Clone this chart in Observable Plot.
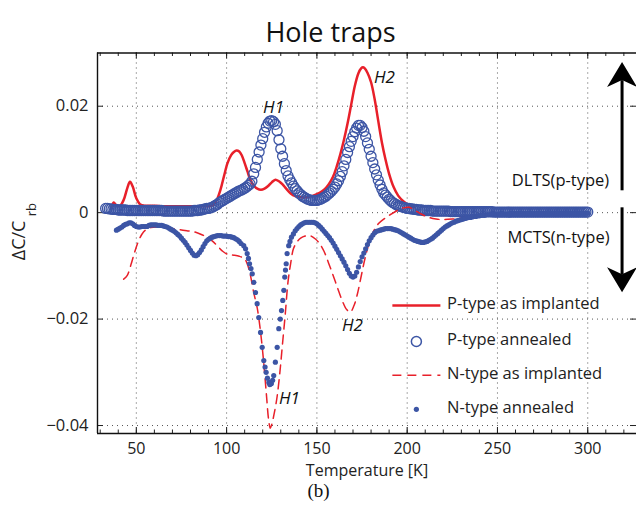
<!DOCTYPE html>
<html><head><meta charset="utf-8">
<script src="https://cdn.jsdelivr.net/npm/d3@7"></script>
<script src="https://cdn.jsdelivr.net/npm/@observablehq/plot@0.6"></script>
<style>body{margin:0;background:#fff}</style>
</head><body><div id="chart"></div>
<script>
// ---------- data ----------
const seriesNames = ["P-type as implanted", "P-type annealed", "N-type as implanted", "N-type annealed"];
const xTicks = [50, 100, 150, 200, 250, 300];
const yTicks = [-0.04, -0.02, 0, 0.02];

// P-type as implanted (red solid line)
const pImpT = [36,37.5,39,41,43,45,46.5,48,50,52,55,60,65,70,75,80,85,89,92,94,96.5,98.5,100.5,102.5,104,105.5,107,108.5,110,111.5,113,115,117,119,121,123,125,127,129,131,133,135.5,138,141,144.5,148,151.5,154,156.5,159,161,163,165,167,169,171,173,174.5,175.5,176.5,178,180,182,184,186,188,190,192.5,195,198,201,204];
const pImpV = [0.0008,0.0019,0.0013,0.0013,0.0024,0.0046,0.0058,0.0049,0.0027,0.0016,0.0013,0.0013,0.0012,0.0012,0.0012,0.0012,0.0012,0.0012,0.0013,0.0020,0.0042,0.0068,0.0093,0.0108,0.0114,0.0117,0.0115,0.0107,0.0093,0.0078,0.0063,0.0051,0.0045,0.0043,0.0045,0.0050,0.0057,0.0062,0.0059,0.0053,0.0045,0.0036,0.0031,0.0029,0.0029,0.0032,0.0037,0.0043,0.0053,0.0068,0.0087,0.0110,0.0137,0.0168,0.0203,0.0238,0.0262,0.0271,0.0273,0.0271,0.0263,0.0245,0.0213,0.0172,0.0132,0.0100,0.0073,0.0048,0.0032,0.0021,0.0014,0.0010];

// P-type annealed (open circles), 1 K steps 33..300
const pAnnT = d3.range(33, 301);
const pAnnV = [
0.0008,0.0008,0.0007,0.0007,0.0006,0.0006,0.0006,0.0005,
0.0005,0.0005,0.0005,0.0005,0.0004,0.0004,0.0004,0.0004,0.0004,0.0004,
0.0004,0.0004,0.0004,0.0004,0.0004,0.0004,0.0004,0.0004,0.0004,0.0004,
0.0004,0.0004,0.0004,0.0004,0.0003,0.0003,0.0003,0.0003,0.0003,0.0003,
0.0003,0.0003,0.0003,0.0003,0.0003,0.0003,0.0003,0.0003,0.0003,0.0003,
0.0003,0.0004,0.0004,0.0004,0.0005,0.0005,0.0006,0.0007,0.0008,0.0008,
0.0009,0.0010,0.0012,0.0014,0.0016,0.0019,0.0021,0.0023,0.0025,0.0027,
0.0029,0.0031,0.0033,0.0035,0.0037,0.0039,0.0041,0.0042,0.0044,0.0046,
0.0048,0.0051,0.0054,0.0059,0.0073,0.0085,0.0100,0.0114,0.0127,0.0139,
0.0151,0.0161,0.0168,0.0172,0.0173,0.0171,0.0166,0.0154,0.0137,0.0120,
0.0106,0.0092,0.0079,0.0069,0.0062,0.0056,0.0050,0.0045,0.0041,0.0037,
0.0034,0.0031,0.0029,0.0027,0.0025,0.0024,0.0023,0.0023,0.0023,0.0023,
0.0024,0.0025,0.0027,0.0029,0.0031,0.0034,0.0037,0.0040,0.0044,0.0048,
0.0054,0.0060,0.0068,0.0077,0.0088,0.0100,0.0113,0.0124,0.0134,0.0143,
0.0152,0.0159,0.0164,0.0164,0.0160,0.0153,0.0143,0.0131,0.0119,0.0106,
0.0094,0.0082,0.0071,0.0061,0.0052,0.0044,0.0037,0.0033,0.0029,0.0025,
0.0022,0.0019,0.0017,0.0015,0.0013,0.0012,0.0011,0.0010,0.0009,0.0008,
0.0008,0.0007,0.0007,0.0006,0.0006,0.0005,0.0005,0.0005,0.0004,0.0004,
0.0004,0.0004,0.0004,0.0003,0.0003,0.0003,0.0003,0.0003,0.0003,0.0003,
0.0003,0.0003,0.0003,0.0002,0.0002,0.0002,0.0002,0.0002,0.0002,0.0002,
0.0002,0.0002,0.0002,0.0002,0.0002,0.0002,0.0002,0.0002,0.0002,0.0002,
0.0002,0.0002,0.0002,0.0002,0.0002,0.0002,0.0002,0.0001,0.0001,0.0001,
0.0001,0.0001,0.0001,0.0001,0.0001,0.0001,0.0001,0.0001,0.0001,0.0001,
0.0001,0.0001,0.0001,0.0001,0.0001,0.0001,0.0001,0.0001,0.0001,0.0001,
0.0001,0.0001,0.0001,0.0001,0.0001,0.0001,0.0001,0.0001,0.0001,0.0001,
0.0001,0.0001,0.0001,0.0001,0.0001,0.0001,0.0001,0.0001,0.0001,0.0001,
0.0001,0.0001,0.0001,0.0001,0.0001,0.0001,0.0001,0.0001,0.0001,0.0001];

// N-type as implanted (red dashed line)
const nImpT = [43,45,47,49,51,53,55,58,62,66,70,74,78,82,86,89,92,95,98,101,104,107,110,111.5,113,115,117,119,120.5,122,123.3,124.2,125,126.5,128,129.5,131,132.5,134,135.5,137,139,141,143.5,146,149,151.5,154,156.5,159,161.5,164,166.5,168.5,170.5,172.5,174.5,176.5,178.5,181,184,187.5,191,194.5,198,201,204,208,212,216,220,225,230,235,240,245,250,255,260];
const nImpV = [-0.0125,-0.0118,-0.0098,-0.0075,-0.0055,-0.0041,-0.0033,-0.0028,-0.0027,-0.0028,-0.0030,-0.0032,-0.0034,-0.0036,-0.0041,-0.0046,-0.0053,-0.0063,-0.0073,-0.0079,-0.0080,-0.0082,-0.0087,-0.0097,-0.0115,-0.0150,-0.0180,-0.0230,-0.0280,-0.0340,-0.0390,-0.0405,-0.0398,-0.0375,-0.0345,-0.0300,-0.0245,-0.0190,-0.0130,-0.0095,-0.0068,-0.0055,-0.0048,-0.0044,-0.0043,-0.0049,-0.0058,-0.0073,-0.0095,-0.0118,-0.0142,-0.0165,-0.0182,-0.0187,-0.0175,-0.0152,-0.0120,-0.0088,-0.0062,-0.0038,-0.0021,-0.0011,-0.0003,0.0004,0.0009,0.0010,0.0005,-0.0003,-0.0009,-0.0012,-0.0013,-0.0012,-0.0010,-0.0007,-0.0005,-0.0003,-0.0002,-0.0001,0.0000];

// N-type annealed (filled dots)
const nDipT = [109.5,110.5,111.4,112.1,112.7,113.5,114.2,115.1,116,116.9,117.8,118.8,119.7,120.6,121.3,121.9,122.6,123.4,123.9,124.3,124.8,125.5,126.1,127,128,128.9,129.7,130.4,131.1,131.7,132.2,132.6,133,133.5,134.4,135.1,135.9];
const nAnnT = d3.range(39, 109).concat(nDipT, d3.range(137, 301));
const nAnnV = [
-0.0033,-0.0031,-0.0029,-0.0027,-0.0024,-0.0022,-0.0021,-0.0019,-0.0019,-0.0021,
-0.0024,-0.0026,-0.0027,-0.0027,-0.0026,-0.0026,-0.0026,-0.0026,-0.0024,-0.0023,
-0.0023,-0.0023,-0.0023,-0.0024,-0.0024,-0.0024,-0.0025,-0.0026,-0.0027,-0.0029,
-0.0031,-0.0033,-0.0035,-0.0038,-0.0041,-0.0044,-0.0048,-0.0052,-0.0056,-0.0061,
-0.0066,-0.0071,-0.0076,-0.0080,-0.0081,-0.0079,-0.0075,-0.0070,-0.0064,-0.0058,
-0.0053,-0.0050,-0.0048,-0.0046,-0.0045,-0.0044,-0.0043,-0.0043,-0.0043,-0.0044,
-0.0044,-0.0044,-0.0045,-0.0045,-0.0046,-0.0047,-0.0049,-0.0051,-0.0054,-0.0058,
// dip H1
-0.0062,-0.0068,-0.0077,-0.0086,-0.0096,-0.0105,-0.0115,-0.0131,-0.0150,-0.0171,
-0.0197,-0.0225,-0.0253,-0.0278,-0.0290,-0.0300,-0.0311,-0.0319,-0.0323,-0.0322,
-0.0321,-0.0315,-0.0306,-0.0281,-0.0253,-0.0218,-0.0200,-0.0184,-0.0165,-0.0146,
-0.0121,-0.0108,-0.0096,-0.0077,-0.0062,-0.0054,-0.0046,
// 137..300
-0.0040,-0.0034,-0.0030,-0.0026,-0.0023,-0.0021,-0.0019,-0.0018,-0.0018,-0.0018,
-0.0018,-0.0018,-0.0019,-0.0021,-0.0024,-0.0027,-0.0031,-0.0035,-0.0039,-0.0043,
-0.0047,-0.0052,-0.0057,-0.0063,-0.0069,-0.0075,-0.0081,-0.0087,-0.0093,-0.0100,
-0.0107,-0.0114,-0.0119,-0.0121,-0.0119,-0.0112,-0.0102,-0.0092,-0.0083,-0.0076,
-0.0068,-0.0060,-0.0053,-0.0047,-0.0042,-0.0038,-0.0035,-0.0034,-0.0033,-0.0032,
-0.0031,-0.0030,-0.0030,-0.0030,-0.0030,-0.0031,-0.0032,-0.0033,-0.0034,-0.0036,
-0.0038,-0.0040,-0.0042,-0.0044,-0.0046,-0.0048,-0.0050,-0.0052,-0.0053,-0.0054,
-0.0055,-0.0056,-0.0056,-0.0055,-0.0054,-0.0052,-0.0050,-0.0048,-0.0045,-0.0042,
-0.0039,-0.0036,-0.0033,-0.0030,-0.0027,-0.0025,-0.0023,-0.0021,-0.0019,-0.0018,
-0.0016,-0.0015,-0.0014,-0.0013,-0.0012,-0.0011,-0.0010,-0.0009,-0.0009,-0.0008,
-0.0007,-0.0007,-0.0006,-0.0006,-0.0005,-0.0005,-0.0005,-0.0004,-0.0004,-0.0004,
-0.0004,-0.0003,-0.0003,-0.0003,-0.0003,-0.0003,-0.0003,-0.0003,-0.0003,-0.0003,
-0.0002,-0.0002,-0.0002,-0.0002,-0.0002,-0.0002,-0.0002,-0.0002,-0.0002,-0.0002,
-0.0002,-0.0002,-0.0002,-0.0002,-0.0002,-0.0002,-0.0002,-0.0002,-0.0002,-0.0002,
-0.0001,-0.0001,-0.0001,-0.0001,-0.0001,-0.0001,-0.0001,-0.0001,-0.0001,-0.0001,
-0.0001,-0.0001,-0.0001,-0.0001,-0.0001,-0.0001,-0.0001,-0.0001,-0.0001,-0.0001,
-0.0001,-0.0001,-0.0001,-0.0001];

// annotations (data units)
const peakLabels = [
  {t: 126, v: 0.0197, s: "H1"}, {t: 187.4, v: 0.0254, s: "H2"},
  {t: 169.7, v: -0.0212, s: "H2"}, {t: 134.8, v: -0.0349, s: "H1"}];
const sideLabels = [{t: 284.9, v: 0.0060, s: "DLTS(p-type)"}, {t: 283.8, v: -0.0047, s: "MCTS(n-type)"}];
const arrowX = 319;
const legendRowsV = [-0.01746, -0.02422, -0.03056, -0.03695];
const legendX = [191.8, 218.4, 205.1, 222.1]; // sample start, sample end, marker, text

// ---------- build ----------
const RED = "#e8202a", BLUE = "#3c55a5";
const pImp = pImpT.map((t, i) => ({t, v: pImpV[i]}));
const pAnn = pAnnT.map((t, i) => ({t, v: pAnnV[i]}));
const nImp = nImpT.map((t, i) => ({t, v: nImpV[i]}));
const nAnn = nAnnT.map((t, i) => ({t, v: nAnnV[i]}));
const minorX = d3.range(30, 330, 10);
const FH = 433 - 52.5, FW = 636 - 97;

const headUp = {draw(c) { c.moveTo(0, 0); c.lineTo(15, 25); c.lineTo(0, 18); c.lineTo(-15, 25); c.closePath(); }};
const headDown = {draw(c) { c.moveTo(0, 0); c.lineTo(15, -25); c.lineTo(0, -18); c.lineTo(-15, -25); c.closePath(); }};

const chart = Plot.plot({
  width: 636, height: 509,
  marginTop: 52.5, marginBottom: 76, marginLeft: 97, marginRight: 0,
  x: {domain: [28.5, 327]},
  y: {domain: [-0.0415, 0.03]},
  style: {fontFamily: "'Open Sans', sans-serif", color: "#222", background: "white"},
  marks: [
    Plot.gridX(xTicks, {stroke: "#444", strokeOpacity: 0.9, strokeDasharray: "1,4"}),
    Plot.gridY(yTicks, {stroke: "#444", strokeOpacity: 0.9, strokeDasharray: "1,4"}),
    // inward ticks
    Plot.ruleX(minorX, {insetTop: FH - 3.5, stroke: "#222"}),
    Plot.ruleX(xTicks, {insetTop: FH - 6, stroke: "#222"}),
    Plot.ruleX(minorX, {insetBottom: FH - 3.5, stroke: "#222"}),
    Plot.ruleX(xTicks, {insetBottom: FH - 6, stroke: "#222"}),
    Plot.ruleY(yTicks, {insetRight: FW - 6, stroke: "#222"}),
    Plot.ruleY(yTicks, {insetLeft: FW - 6, stroke: "#222"}),
    // box (left, bottom, top)
    Plot.ruleX([28.5], {stroke: "#111", strokeWidth: 1.4}),
    Plot.ruleY([-0.0415, 0.03], {stroke: "#111", strokeWidth: 1.4}),
    Plot.axisX({ticks: xTicks, tickSize: 0, tickPadding: 9, fontSize: 16, label: null}),
    Plot.axisY({ticks: yTicks, tickSize: 0, tickPadding: 9, fontSize: 16.5, label: null,
      tickFormat: d => d === 0 ? "0" : (d < 0 ? "\u2212" : "") + Math.abs(d).toFixed(2)}),
    // data
    Plot.line(pImp, {x: "t", y: "v", stroke: RED, strokeWidth: 2.5, curve: "catmull-rom"}),
    Plot.dot(pAnn, {x: "t", y: "v", r: 5, stroke: BLUE, strokeWidth: 1.3, fill: "none"}),
    Plot.line(nImp, {x: "t", y: "v", stroke: RED, strokeWidth: 1.5, strokeDasharray: "9,6", curve: "catmull-rom"}),
    Plot.dot(nAnn, {x: "t", y: "v", r: 2.6, fill: BLUE, stroke: "none"}),
    // peak labels
    Plot.text(peakLabels, {x: "t", y: "v", text: "s", fontSize: 17, fontStyle: "italic", fill: "#111"}),
    Plot.text(sideLabels, {x: "t", y: "v", text: "s", fontSize: 16.5, fill: "#111"}),
    // arrows
    Plot.link([{y1: 0.0042, y2: 0.0249}, {y1: 0.0010, y2: -0.01157}], {x1: arrowX, x2: arrowX, y1: "y1", y2: "y2", stroke: "black", strokeWidth: 3}),
    Plot.dot([{v: 0.0283}], {x: arrowX, y: "v", symbol: headUp, fill: "black", stroke: "none", r: 5}),
    Plot.dot([{v: -0.01496}], {x: arrowX, y: "v", symbol: headDown, fill: "black", stroke: "none", r: 5}),
    // legend
    Plot.link([legendRowsV[0]], {x1: legendX[0], x2: legendX[1], y1: d => d, y2: d => d, stroke: RED, strokeWidth: 2.5}),
    Plot.dot([legendRowsV[1]], {x: legendX[2], y: d => d, r: 5, stroke: BLUE, strokeWidth: 1.5, fill: "none"}),
    Plot.link([legendRowsV[2]], {x1: legendX[0], x2: legendX[1], y1: d => d, y2: d => d, stroke: RED, strokeWidth: 1.5, strokeDasharray: "9,6"}),
    Plot.dot([legendRowsV[3]], {x: legendX[2], y: d => d, r: 2.6, fill: BLUE}),
    Plot.text(seriesNames, {x: legendX[3], y: (d, i) => legendRowsV[i], text: d => d, textAnchor: "start", fontSize: 16.5, dy: -2, fill: "#222"}),
    // titles
    Plot.text(["Hole traps"], {frameAnchor: "top", dx: -36.5, dy: -30, fontSize: 27, fill: "#111"}),
    Plot.text(["Temperature [K]"], {frameAnchor: "bottom", dy: 42, fontSize: 16, fill: "#222"}),
    Plot.text(["(b)"], {frameAnchor: "bottom", dx: -48.5, dy: 63, fontSize: 19, fontFamily: "'Liberation Serif', serif", fill: "#111"}),
    Plot.text(["\u0394C/C"], {frameAnchor: "left", dx: -78, dy: 17, rotate: -90, fontSize: 18, fill: "#222"}),
    Plot.text(["rb"], {frameAnchor: "left", dx: -66, dy: -27, rotate: -90, fontSize: 13, fill: "#222"})
  ]
});
document.getElementById("chart").appendChild(chart);
</script></body></html>
